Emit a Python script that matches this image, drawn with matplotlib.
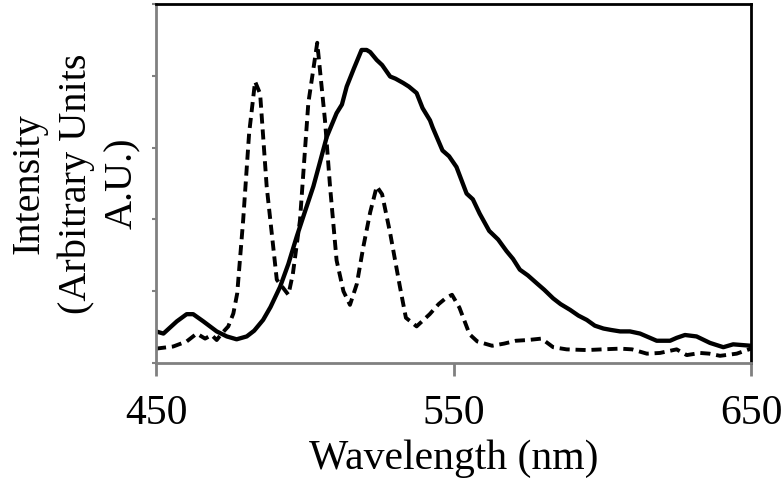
import numpy as np
import matplotlib
matplotlib.use("Agg")
import matplotlib.pyplot as plt

# solid curve (emission)
solid_wl = [450.0, 452.5, 457.0, 460.3, 462.5, 465.9, 470.4, 473.8, 477.1, 480.5,
            483.0, 486.0, 488.5, 491.7, 494.5, 497.3, 500.0, 502.9, 505.0, 507.4,
            510.7, 512.5, 514.1, 516.5, 519.1, 520.8, 522.0, 524.2, 526.0, 528.7,
            530.5, 533.1, 535.0, 537.6, 539.6, 542.1, 543.0, 546.3, 548.5, 551.0,
            554.4, 556.5, 558.8, 562.0, 565.0, 567.8, 570.0, 572.3, 575.0, 578.0,
            580.5, 583.5, 586.0, 589.2, 592.0, 594.8, 597.5, 600.4, 603.0, 606.0,
            609.3, 612.7, 615.5, 618.3, 622.8, 625.0, 627.8, 631.7, 636.2, 640.7,
            644.0, 647.0, 650.0]
solid_int = [0.44, 0.41, 0.58, 0.68, 0.68, 0.58, 0.44, 0.37, 0.33, 0.37,
             0.45, 0.60, 0.78, 1.06, 1.38, 1.76, 2.10, 2.46, 2.78, 3.15,
             3.48, 3.60, 3.85, 4.10, 4.36, 4.36, 4.33, 4.22, 4.15, 3.99,
             3.96, 3.90, 3.85, 3.76, 3.55, 3.38, 3.28, 2.96, 2.88, 2.73,
             2.36, 2.28, 2.08, 1.84, 1.72, 1.56, 1.45, 1.30, 1.22, 1.11,
             1.02, 0.90, 0.82, 0.74, 0.66, 0.60, 0.52, 0.48, 0.46, 0.44,
             0.44, 0.41, 0.36, 0.31, 0.31, 0.35, 0.39, 0.37, 0.28, 0.22,
             0.26, 0.25, 0.24]

# dashed curve (excitation)
dash_wl = [450.0, 455.8, 460.3, 463.7, 466.5, 468.7, 470.4, 472.1, 474.3, 476.0,
           477.3, 479.3, 481.3, 483.3, 485.0, 487.2, 490.6, 494.5, 496.0, 498.4,
           501.2, 504.2, 506.8, 508.5, 510.7, 513.0, 515.2, 517.5, 519.7, 522.0,
           524.2, 526.0, 528.7, 532.0, 534.0, 537.6, 542.0, 545.0, 547.6, 549.5,
           552.0, 555.4, 558.0, 563.0, 567.0, 571.0, 575.0, 579.6, 583.5, 588.0,
           594.8, 600.0, 606.0, 610.0, 615.0, 619.4, 625.0, 628.4, 632.9, 636.0,
           639.6, 645.2, 650.0]
dash_int = [0.20, 0.23, 0.30, 0.41, 0.34, 0.39, 0.32, 0.41, 0.51, 0.69,
            0.97, 1.99, 3.20, 3.92, 3.75, 2.46, 1.16, 0.95, 1.24, 1.99,
            3.62, 4.46, 3.38, 2.46, 1.43, 1.00, 0.81, 1.10, 1.62, 2.10,
            2.46, 2.35, 1.81, 1.06, 0.63, 0.51, 0.68, 0.82, 0.91, 0.95,
            0.77, 0.40, 0.30, 0.24, 0.27, 0.31, 0.32, 0.34, 0.22, 0.19,
            0.18, 0.19, 0.20, 0.19, 0.13, 0.14, 0.19, 0.11, 0.14, 0.13,
            0.10, 0.13, 0.20]

x_ticks = [450, 550, 650]

plt.rcParams['font.family'] = ['Liberation Serif', 'DejaVu Serif']

fig = plt.figure(figsize=(7.84, 4.86), dpi=100)
ax = fig.add_axes([156 / 784, 1 - 363 / 486, (751 - 156) / 784, (363 - 4) / 486])

ax.plot(solid_wl, solid_int, color='black', lw=3.1, solid_joinstyle='round')
ax.plot(dash_wl, dash_int, color='black', lw=2.8, dashes=(2.6, 1.5))

ax.set_xlim(450, 650)
ax.set_ylim(0, 5)
ax.set_xticks(x_ticks)
ax.set_xticklabels([str(t) for t in x_ticks], fontsize=30)
ax.set_yticks(range(0, 6))
ax.set_yticklabels([])

gray = '#808080'
for side in ['left', 'bottom']:
    ax.spines[side].set_color(gray)
    ax.spines[side].set_linewidth(2.0)
for side in ['top', 'right']:
    ax.spines[side].set_color('black')
    ax.spines[side].set_linewidth(2.0)
ax.tick_params(axis='x', direction='out', length=9, width=2.0, color=gray, pad=14)
ax.tick_params(axis='y', direction='out', length=3, width=1.5, color=gray)

ax.set_xlabel('Wavelength (nm)', fontsize=30, labelpad=4)
ax.set_ylabel('Intensity\n(Arbitrary Units\nA.U.)', fontsize=29, linespacing=1.35, labelpad=4)

fig.savefig('out.png', dpi=100)
